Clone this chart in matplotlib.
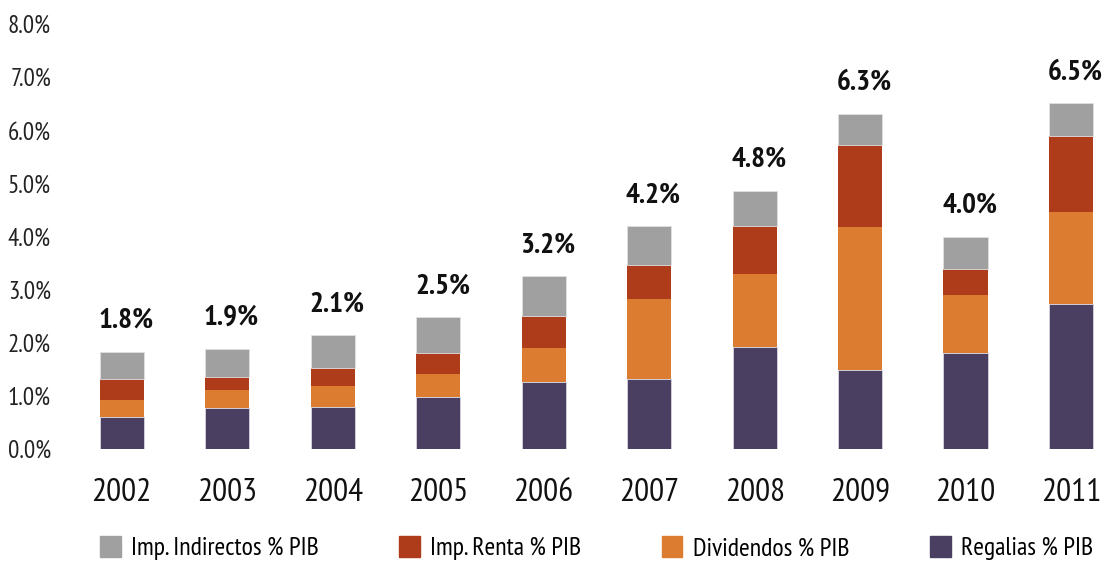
import matplotlib.pyplot as plt
from matplotlib.patches import Patch

plt.rcParams['font.family'] = ['PT Sans Narrow', 'DejaVu Sans']
plt.rcParams['font.stretch'] = 'condensed'

years = ['2002', '2003', '2004', '2005', '2006', '2007', '2008', '2009', '2010', '2011']
regalias = [0.61, 0.78, 0.80, 0.98, 1.26, 1.32, 1.92, 1.48, 1.81, 2.73]
dividendos = [0.32, 0.33, 0.39, 0.44, 0.65, 1.51, 1.37, 2.69, 1.09, 1.74]
renta = [0.39, 0.25, 0.34, 0.39, 0.60, 0.64, 0.90, 1.55, 0.48, 1.42]
indirectos = [0.51, 0.53, 0.61, 0.67, 0.74, 0.72, 0.67, 0.59, 0.61, 0.62]
totals = ['1.8%', '1.9%', '2.1%', '2.5%', '3.2%', '4.2%', '4.8%', '6.3%', '4.0%', '6.5%']

c_reg = '#4a3f61'
c_div = '#dc7c30'
c_ren = '#ae3b1a'
c_ind = '#a0a0a0'

fig = plt.figure(figsize=(11.07, 5.64), dpi=100)
ax = fig.add_axes([0.0623, 0.2039, 0.9377, 0.7535])

x = list(range(len(years)))
w = 0.42
b1 = regalias
b2 = [a + b for a, b in zip(b1, dividendos)]
b3 = [a + b for a, b in zip(b2, renta)]
b4 = [a + b for a, b in zip(b3, indirectos)]

ax.bar(x, regalias, w, color=c_reg, edgecolor='#d8d4e0', linewidth=0.6)
ax.bar(x, dividendos, w, bottom=b1, color=c_div, edgecolor='none')
ax.bar(x, renta, w, bottom=b2, color=c_ren, edgecolor='none')
ax.bar(x, indirectos, w, bottom=b3, color=c_ind, edgecolor='#e0e0e0', linewidth=0.6)

for xi, top, lab in zip(x, b4, totals):
    ax.annotate(lab, (xi, top), xytext=(3, 13), textcoords='offset points',
                ha='center', va='bottom', fontsize=21, fontweight='bold', color='#111111')

ax.set_xlim(-0.5, 9.34)
ax.set_ylim(0, 8)
ax.set_yticks([i for i in range(9)])
ax.set_yticklabels(['%.1f%%' % i for i in range(9)], fontsize=18, color='#222222')
ax.set_xticks(x)
ax.set_xticklabels(years, fontsize=24, color='#111111')
ax.tick_params(axis='both', length=0)
ax.tick_params(axis='x', pad=21)
ax.tick_params(axis='y', pad=13)
for s in ax.spines.values():
    s.set_visible(False)

handles = [Patch(color=c_ind), Patch(color=c_ren), Patch(color=c_div), Patch(color=c_reg)]
labels = ['Imp. Indirectos % PIB', 'Imp. Renta % PIB', 'Dividendos % PIB', 'Regalias % PIB']
fig.legend(handles, labels, ncol=4, loc='center', bbox_to_anchor=(0.0903, 0.0, 0.897, 0.057),
           mode='expand', frameon=False, fontsize=18.5, handlelength=0.8, handleheight=0.9,
           handletextpad=0.4, borderaxespad=0, borderpad=0)

fig.savefig('out.png', dpi=100)
